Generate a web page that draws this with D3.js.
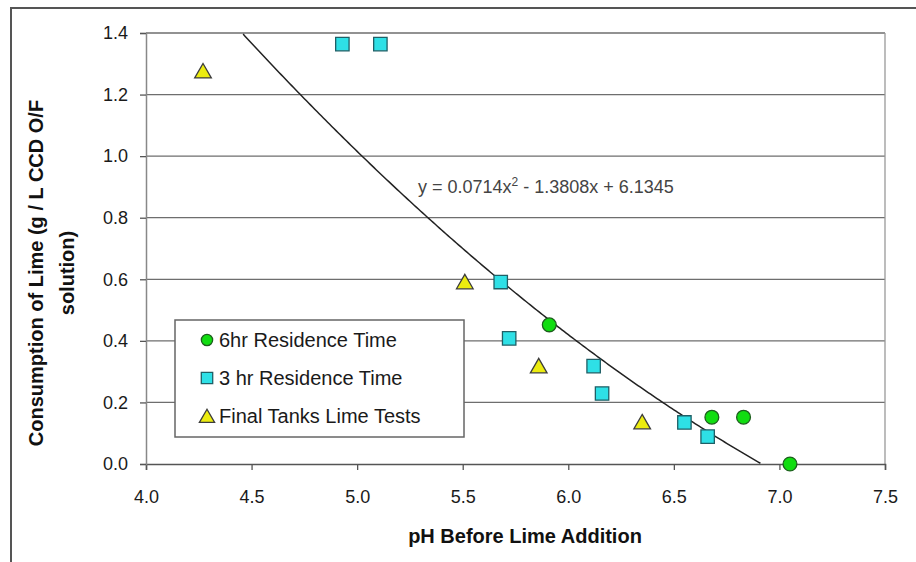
<!DOCTYPE html>
<html>
<head>
<meta charset="utf-8">
<script src="https://cdn.jsdelivr.net/npm/d3@7"></script>
<style>
  body { margin: 0; background: #fff; }
  text { font-family: "Liberation Sans", Arial, sans-serif; }
</style>
</head>
<body>
<div id="chart"></div>
<script>
// Data
const sixHrPH = [5.91, 6.68, 6.83, 7.05];
const sixHrLime = [0.452, 0.152, 0.152, 0.0];
const threeHrPH = [4.93, 5.11, 5.68, 5.72, 6.12, 6.16, 6.55, 6.66];
const threeHrLime = [1.364, 1.364, 0.591, 0.408, 0.318, 0.229, 0.135, 0.089];
const finalPH = [4.27, 5.51, 5.86, 6.35];
const finalLime = [1.273, 0.588, 0.315, 0.133];
const trendCoef = [0.0714, -1.3808, 6.1345]; // a, b, c
const xTicks = [4.0, 4.5, 5.0, 5.5, 6.0, 6.5, 7.0, 7.5];
const yTicks = [0.0, 0.2, 0.4, 0.6, 0.8, 1.0, 1.2, 1.4];
const seriesNames = ["6hr Residence Time", "3 hr Residence Time", "Final Tanks Lime Tests"];

const width = 916, height = 562;
const plotL = 146, plotR = 885, plotT = 33, plotB = 464;

const svg = d3.select("#chart").append("svg")
  .attr("width", width)
  .attr("height", height);

// outer frame (only top and left edges show)
svg.append("path")
  .attr("d", `M11,${height} L11,8 L${width},8`)
  .attr("fill", "none")
  .attr("stroke", "#555")
  .attr("stroke-width", 2);

const x = d3.scaleLinear().domain([4.0, 7.5]).range([plotL, plotR]);
const y = d3.scaleLinear().domain([0, 1.4]).range([plotB, plotT]);

// gridlines
svg.append("g")
  .selectAll("line")
  .data(yTicks.filter(d => d > 0))
  .enter()
  .append("line")
  .attr("x1", plotL).attr("x2", plotR)
  .attr("y1", d => y(d)).attr("y2", d => y(d))
  .attr("stroke", "#6e6e6e")
  .attr("stroke-width", 1.3);

// right border of plot area
svg.append("line")
  .attr("x1", plotR).attr("x2", plotR)
  .attr("y1", plotT).attr("y2", plotB)
  .attr("stroke", "#999")
  .attr("stroke-width", 1.3);

// axes
const xAxis = svg.append("g")
  .attr("transform", `translate(0,${plotB})`)
  .call(d3.axisBottom(x).tickValues(xTicks).tickFormat(d3.format(".1f")).tickSize(6).tickPadding(20));
const yAxis = svg.append("g")
  .attr("transform", `translate(${plotL},0)`)
  .call(d3.axisLeft(y).tickValues(yTicks).tickFormat(d3.format(".1f")).tickSize(6).tickPadding(12));

[xAxis, yAxis].forEach(g => {
  g.select(".domain").attr("stroke", "#555").attr("stroke-width", 1.5);
  g.selectAll(".tick line").attr("stroke", "#555").attr("stroke-width", 1.3);
  g.selectAll(".tick text")
    .attr("fill", "#1a1a1a")
    .style("font-size", "18px")
    .style("font-family", "Liberation Sans, Arial, sans-serif");
});
yAxis.select(".domain").attr("stroke", "#888");

// trend line from its equation
const trendX = d3.range(4.0, 7.5001, 0.01);
const trendPts = trendX
  .map(v => [v, trendCoef[0] * v * v + trendCoef[1] * v + trendCoef[2]])
  .filter(p => p[1] <= 1.4 && p[1] >= 0);
svg.append("path")
  .datum(trendPts)
  .attr("d", d3.line().x(d => x(d[0])).y(d => y(d[1])))
  .attr("fill", "none")
  .attr("stroke", "#222")
  .attr("stroke-width", 1.5);

// equation label
const eq = svg.append("text")
  .attr("x", 418)
  .attr("y", 193)
  .attr("fill", "#444")
  .style("font-size", "18px");
eq.append("tspan").text("y = 0.0714x");
eq.append("tspan").attr("dy", -7).style("font-size", "12px").text("2");
eq.append("tspan").attr("dy", 7).text(" - 1.3808x + 6.1345");

// markers
const sym = {
  circle: d3.symbol().type(d3.symbolCircle).size(150),
  square: d3.symbol().type(d3.symbolSquare).size(180),
  triangle: d3.symbol().type(d3.symbolTriangle).size(120)
};
const styles = [
  { shape: "circle", fill: "#11dd11", stroke: "#1d5e1d" },
  { shape: "square", fill: "#2ee0e6", stroke: "#1f5f66" },
  { shape: "triangle", fill: "#ecec10", stroke: "#3c3c3c" }
];

function drawSeries(xs, ys, st) {
  svg.append("g")
    .selectAll("path")
    .data(xs.map((v, i) => [v, ys[i]]))
    .enter()
    .append("path")
    .attr("d", sym[st.shape])
    .attr("transform", d => `translate(${x(d[0])},${y(d[1]) + (st.shape === "triangle" ? 1 : 0)})`)
    .attr("fill", st.fill)
    .attr("stroke", st.stroke)
    .attr("stroke-width", 1.3);
}
drawSeries(threeHrPH, threeHrLime, styles[1]);
drawSeries(finalPH, finalLime, styles[2]);
drawSeries(sixHrPH, sixHrLime, styles[0]);

// legend
const lg = svg.append("g").attr("transform", "translate(175,320)");
lg.append("rect")
  .attr("width", 289).attr("height", 117)
  .attr("fill", "#fff")
  .attr("stroke", "#666")
  .attr("stroke-width", 1.5);
seriesNames.forEach((name, i) => {
  const cy = 20 + i * 38;
  lg.append("path")
    .attr("d", d3.symbol().type([d3.symbolCircle, d3.symbolSquare, d3.symbolTriangle][i]).size([100, 130, 100][i]))
    .attr("transform", `translate(32,${cy + (i === 2 ? 2 : 0)})`)
    .attr("fill", styles[i].fill)
    .attr("stroke", styles[i].stroke)
    .attr("stroke-width", 1.3);
  lg.append("text")
    .attr("x", 44)
    .attr("y", cy + 7)
    .attr("fill", "#1a1a1a")
    .style("font-size", "20px")
    .text(name);
});

// axis titles
svg.append("text")
  .attr("x", 525)
  .attr("y", 543)
  .attr("text-anchor", "middle")
  .attr("fill", "#111")
  .style("font-size", "20px")
  .style("font-weight", "bold")
  .text("pH Before Lime Addition");

const yt = svg.append("text")
  .attr("transform", "translate(43,273) rotate(-90)")
  .attr("text-anchor", "middle")
  .attr("fill", "#111")
  .style("font-size", "20px")
  .style("font-weight", "bold");
yt.append("tspan").attr("x", 0).attr("y", 0).text("Consumption of Lime (g / L CCD O/F");
yt.append("tspan").attr("x", 0).attr("y", 31).text("solution)");
</script>
</body>
</html>
